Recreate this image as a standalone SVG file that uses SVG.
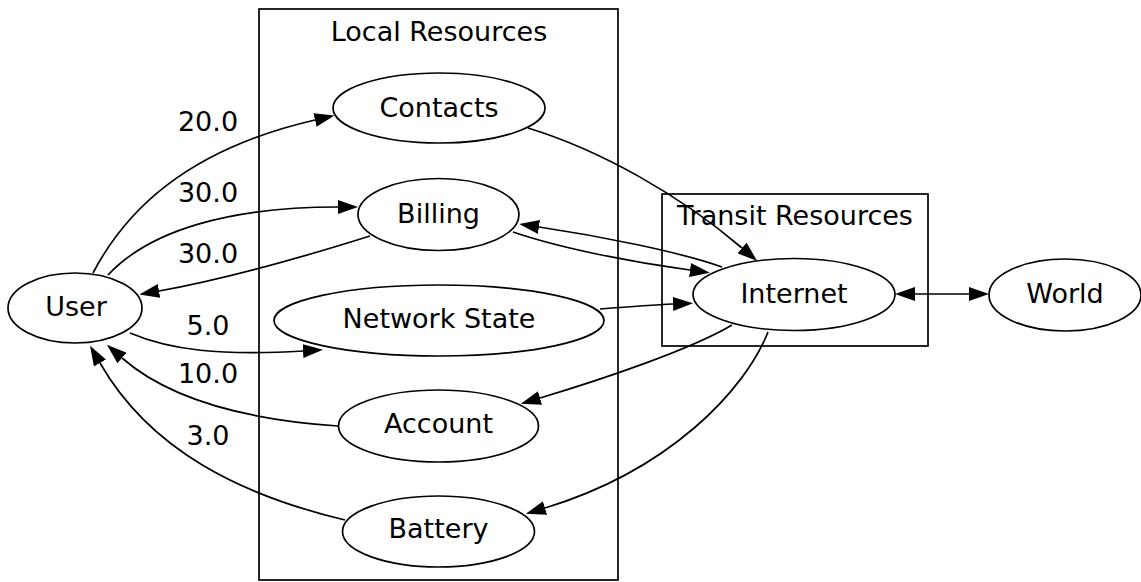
<svg xmlns="http://www.w3.org/2000/svg" width="1141" height="582" viewBox="0 0 1141 582">
<defs>
<marker id="ah" viewBox="0 0 20 14" refX="0" refY="7" markerWidth="20" markerHeight="14" markerUnits="userSpaceOnUse" orient="auto-start-reverse">
<path d="M0,0 L20,7 L0,14 z" fill="#000"/>
</marker>
<style>
text{font-family:"DejaVu Sans","Liberation Sans",sans-serif;font-size:27px;fill:#000;text-anchor:middle}
.cl{fill:none;stroke:#000;stroke-width:1.7}
.nd ellipse{fill:none;stroke:#000;stroke-width:1.7}
.e{fill:none;stroke:#000;stroke-width:1.7;marker-end:url(#ah)}
.b{marker-start:url(#ah)}
</style>
</defs>
<rect width="1141" height="582" fill="#fff"/>
<g id="cluster_local">
<rect class="cl" x="259" y="9" width="359" height="571"/>
<text x="439" y="41">Local Resources</text>
</g>
<g id="cluster_transit">
<rect class="cl" x="662" y="194" width="266" height="152"/>
<text x="795" y="225">Transit Resources</text>
</g>
<g id="edges">
<path class="e" d="M93,273 C125,212 185,150 315,120"/>
<path class="e" d="M108,275 C150,230 230,207 338,207"/>
<path class="e" d="M370,236 C300,258 220,280 159,291"/>
<path class="e" d="M130,333 C170,350 220,356 303,351"/>
<path class="e" d="M338,426 C250,420 170,400 122,358"/>
<path class="e" d="M345,520 C240,495 150,450 100,363"/>
<path class="e" d="M528,128 C600,150 680,195 742,248"/>
<path class="e" d="M722,267 C680,252 600,236 539,227"/>
<path class="e" d="M513,232 C560,248 630,262 690,270"/>
<path class="e" d="M600,309 C625,307 650,305 673,304"/>
<path class="e" d="M732,325 C690,350 600,380 540,398"/>
<path class="e" d="M768,332 C745,390 670,470 545,508"/>
<path class="e b" d="M915,294 L969,294"/>
<text x="208" y="131">20.0</text>
<text x="208" y="202">30.0</text>
<text x="208" y="263">30.0</text>
<text x="208" y="335">5.0</text>
<text x="208" y="383">10.0</text>
<text x="208" y="445">3.0</text>
</g>
<g id="User" class="nd"><ellipse cx="75" cy="308" rx="67" ry="35"/><text x="76" y="316">User</text></g>
<g id="Contacts" class="nd"><ellipse cx="439" cy="108" rx="106" ry="35"/><text x="439" y="117">Contacts</text></g>
<g id="Billing" class="nd"><ellipse cx="438.5" cy="214.5" rx="80.5" ry="36"/><text x="438.5" y="223">Billing</text></g>
<g id="NetworkState" class="nd"><ellipse cx="439" cy="320.5" rx="165" ry="35.5"/><text x="439" y="328">Network State</text></g>
<g id="Account" class="nd"><ellipse cx="438.5" cy="426" rx="100" ry="36"/><text x="438.5" y="433">Account</text></g>
<g id="Battery" class="nd"><ellipse cx="438.5" cy="531.5" rx="96" ry="35.5"/><text x="438.5" y="538">Battery</text></g>
<g id="Internet" class="nd"><ellipse cx="794" cy="294.5" rx="101" ry="36"/><text x="794" y="303">Internet</text></g>
<g id="World" class="nd"><ellipse cx="1065" cy="295" rx="76" ry="36"/><text x="1065" y="303">World</text></g>
</svg>
